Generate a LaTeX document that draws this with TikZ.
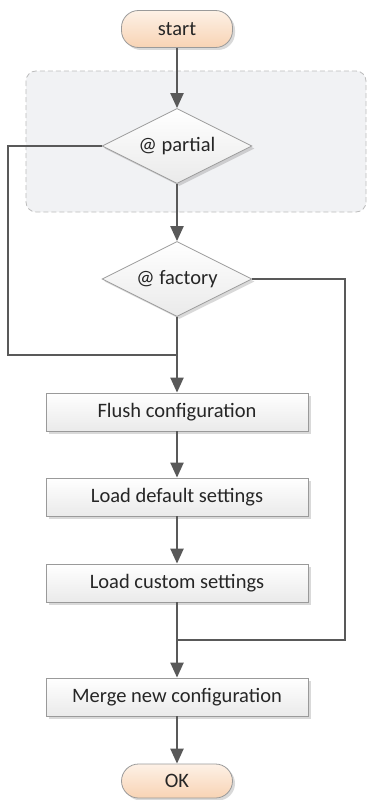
\documentclass[tikz,border=0pt]{standalone}
\usepackage{fontspec}
\setmainfont{Carlito}
\usetikzlibrary{arrows.meta,shapes.geometric,shadows}
\definecolor{lineC}{HTML}{595959}
\definecolor{bordC}{HTML}{9A9A9A}
\definecolor{grpF}{HTML}{F1F2F4}
\definecolor{grpD}{HTML}{BDBDBD}
\definecolor{termT}{HTML}{FDF1E6}
\definecolor{termB}{HTML}{F8D3B4}
\definecolor{boxB}{HTML}{EAEAEA}
\definecolor{txtC}{HTML}{262626}
\tikzset{
  base/.style={draw=bordC, line width=0.8pt, text=txtC, font=\fontsize{20.5}{24}\selectfont,
    drop shadow={shadow xshift=2.5pt, shadow yshift=-2.5pt, opacity=0.15, fill=black}},
  term/.style={base, rectangle, rounded corners=17pt, top color=termT, bottom color=termB,
    minimum width=111pt, minimum height=37pt, inner sep=0pt},
  procbox/.style={base, rectangle, top color=white, bottom color=boxB,
    minimum width=262pt, minimum height=38pt, inner sep=0pt},
  decide/.style={base, diamond, shape aspect=2, top color=white, bottom color=boxB,
    minimum width=150pt, minimum height=75pt, inner sep=0pt},
  flow/.style={draw=lineC, line width=2.2pt, -{Triangle[length=15pt,width=13pt]}},
  plain/.style={draw=lineC, line width=2.2pt},
}
\begin{document}
\begin{tikzpicture}[x=1pt,y=-1pt]
\useasboundingbox (0,0) rectangle (369,800);
\fill[white] (0,0) rectangle (369,800);
\draw[fill=grpF, draw=grpD, dashed, dash pattern=on 5pt off 3pt, line width=0.8pt, rounded corners=10pt]
  (26,71) rectangle (366,212);
\node[term] (start) at (177,29) {start};
\node[decide] (partial) at (177,146) {@ partial};
\node[decide] (factory) at (177,279) {@ factory};
\node[procbox] (flush) at (177,412) {Flush configuration};
\node[procbox] (default) at (177,497) {Load default settings};
\node[procbox] (custom) at (177,583) {Load custom settings};
\node[procbox] (merge) at (177,697) {Merge new configuration};
\node[term, minimum height=34pt] (ok) at (177,781) {OK};
\coordinate (lb) at (8,355);
\coordinate (j1) at (177,355);
\coordinate (rb) at (345,640);
\coordinate (j2) at (177,640);
\draw[flow] (start) -- (partial);
\draw[flow] (partial) -- (factory);
\draw[plain] (partial.west) -| (lb) -- (j1);
\draw[flow] (factory) -- (flush);
\draw[plain] (factory.east) -| (rb) -- (j2);
\draw[flow] (flush) -- (default);
\draw[flow] (default) -- (custom);
\draw[flow] (custom) -- (merge);
\draw[flow] (merge) -- (ok);
\end{tikzpicture}
\end{document}
